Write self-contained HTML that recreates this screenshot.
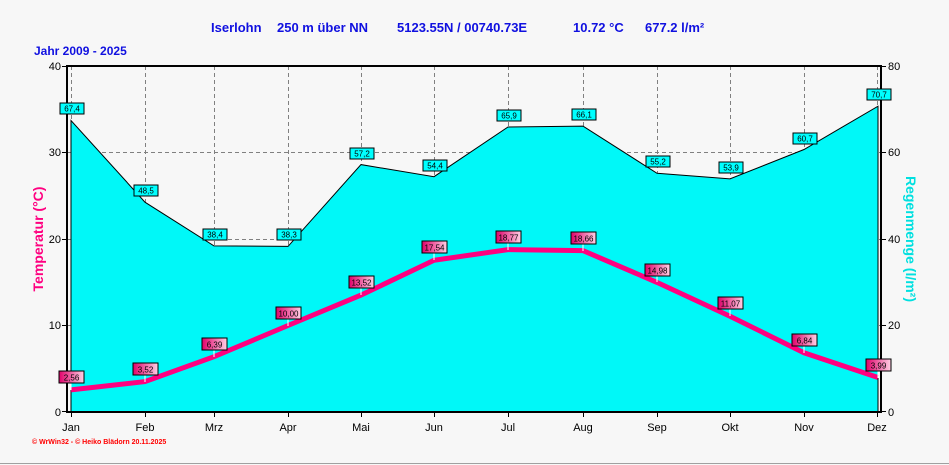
<!DOCTYPE html>
<html><head><meta charset="utf-8"><style>
html,body{margin:0;padding:0;background:#f7f7f7;}
svg{display:block;font-family:"Liberation Sans",Arial,sans-serif;}
</style></head><body>
<svg width="949" height="465" viewBox="0 0 949 465" xmlns="http://www.w3.org/2000/svg">
<defs>
<linearGradient id="pk" x1="0" x2="1" y1="0" y2="0"><stop offset="0" stop-color="#e0006a"/><stop offset="1" stop-color="#ffd0e4"/></linearGradient>
</defs>
<rect width="949" height="465" fill="#f7f7f7"/>
<line x1="0" y1="463.5" x2="949" y2="463.5" stroke="#a0a0a0"/>
<g fill="#1010e0" font-weight="bold" font-size="13">
<text x="211" y="32">Iserlohn</text><text x="277" y="32">250 m über NN</text>
<text x="397" y="32">5123.55N / 00740.73E</text><text x="573" y="32">10.72 °C</text><text x="645" y="32">677.2 l/m²</text>
<text x="34" y="55" font-size="12">Jahr  2009 - 2025</text>
</g>
<rect x="67" y="66" width="814" height="346" fill="#f7f7f7"/>
<g stroke="#808080" stroke-dasharray="4,3" stroke-width="1">
<line x1="67" y1="152.5" x2="881" y2="152.5"/><line x1="67" y1="239.5" x2="881" y2="239.5"/><line x1="67" y1="325.5" x2="881" y2="325.5"/>
<line x1="71.5" y1="66" x2="71.5" y2="412"/><line x1="145.5" y1="66" x2="145.5" y2="412"/><line x1="214.5" y1="66" x2="214.5" y2="412"/><line x1="288.5" y1="66" x2="288.5" y2="412"/><line x1="361.5" y1="66" x2="361.5" y2="412"/><line x1="434.5" y1="66" x2="434.5" y2="412"/><line x1="508.5" y1="66" x2="508.5" y2="412"/><line x1="583.5" y1="66" x2="583.5" y2="412"/><line x1="657.5" y1="66" x2="657.5" y2="412"/><line x1="730.5" y1="66" x2="730.5" y2="412"/><line x1="804.5" y1="66" x2="804.5" y2="412"/><line x1="877.5" y1="66" x2="877.5" y2="412"/>
</g>
<polygon fill="#00f8f8" stroke="#000" stroke-width="1" points="71,412 71,120.5 145,202.2 214,245.9 288,246.4 361,164.6 434,176.7 508,127 583,126.1 657,173.3 730,178.9 804,149.5 878,106.2 878,412"/>
<polyline fill="none" stroke="#ff0080" stroke-width="5" points="71,389.9 145,381.6 214,356.7 288,325.5 361,295.1 434,260.3 508,249.6 583,250.6 657,282.4 730,316.2 804,352.8 878,377.5"/>
<g stroke="#000" stroke-width="2" fill="none"><polyline points="67,66 881,66"/><line x1="67" y1="65" x2="67" y2="413"/><line x1="881" y1="65" x2="881" y2="413"/><line x1="66" y1="412" x2="882" y2="412"/></g>
<g stroke="#000" stroke-width="1">
<line x1="62" y1="66.5" x2="67" y2="66.5"/><line x1="62" y1="152.5" x2="67" y2="152.5"/><line x1="62" y1="239.5" x2="67" y2="239.5"/><line x1="62" y1="325.5" x2="67" y2="325.5"/><line x1="62" y1="411.5" x2="67" y2="411.5"/>
<line x1="881" y1="66.5" x2="886" y2="66.5"/><line x1="881" y1="152.5" x2="886" y2="152.5"/><line x1="881" y1="239.5" x2="886" y2="239.5"/><line x1="881" y1="325.5" x2="886" y2="325.5"/><line x1="881" y1="411.5" x2="886" y2="411.5"/>
<line x1="71.5" y1="412" x2="71.5" y2="417"/><line x1="145.5" y1="412" x2="145.5" y2="417"/><line x1="214.5" y1="412" x2="214.5" y2="417"/><line x1="288.5" y1="412" x2="288.5" y2="417"/><line x1="361.5" y1="412" x2="361.5" y2="417"/><line x1="434.5" y1="412" x2="434.5" y2="417"/><line x1="508.5" y1="412" x2="508.5" y2="417"/><line x1="583.5" y1="412" x2="583.5" y2="417"/><line x1="657.5" y1="412" x2="657.5" y2="417"/><line x1="730.5" y1="412" x2="730.5" y2="417"/><line x1="804.5" y1="412" x2="804.5" y2="417"/><line x1="877.5" y1="412" x2="877.5" y2="417"/>
</g>
<g font-size="11" fill="#000">
<text x="61" y="70" text-anchor="end">40</text><text x="61" y="156" text-anchor="end">30</text><text x="61" y="243" text-anchor="end">20</text><text x="61" y="329" text-anchor="end">10</text><text x="61" y="416" text-anchor="end">0</text>
<text x="888" y="70">80</text><text x="888" y="156">60</text><text x="888" y="243">40</text><text x="888" y="329">20</text><text x="888" y="416">0</text>
<g text-anchor="middle"><text x="71" y="431">Jan</text><text x="145" y="431">Feb</text><text x="214" y="431">Mrz</text><text x="288" y="431">Apr</text><text x="361" y="431">Mai</text><text x="434" y="431">Jun</text><text x="508" y="431">Jul</text><text x="583" y="431">Aug</text><text x="657" y="431">Sep</text><text x="730" y="431">Okt</text><text x="804" y="431">Nov</text><text x="877" y="431">Dez</text></g>
</g>
<text x="43" y="239" transform="rotate(-90 43 239)" text-anchor="middle" fill="#ff0080" font-weight="bold" font-size="14">Temperatur  (°C)</text>
<text x="906" y="239" transform="rotate(90 906 239)" text-anchor="middle" fill="#00e0e0" font-weight="bold" font-size="14">Regenmenge  (l/m²)</text>
<text x="32" y="444" fill="#ff0000" font-size="7" font-weight="bold">© WrWin32  -  © Heiko Blädorn  20.11.2025</text>
<g font-size="8" text-anchor="middle">
<g fill="#00ffff" stroke="#000">
<rect x="60" y="103" width="24" height="11"/><rect x="134" y="185" width="24" height="11"/><rect x="203" y="229" width="24" height="11"/><rect x="277" y="229" width="24" height="11"/><rect x="350" y="148" width="24" height="11"/><rect x="423" y="160" width="24" height="11"/><rect x="497" y="110" width="24" height="11"/><rect x="572" y="109" width="24" height="11"/><rect x="646" y="156" width="24" height="11"/><rect x="719" y="162" width="24" height="11"/><rect x="793" y="133" width="24" height="11"/><rect x="867" y="89" width="24" height="11"/>
</g>
<g fill="#000">
<text x="72" y="111.5">67,4</text><text x="146" y="193.5">48,5</text><text x="215" y="237.5">38,4</text><text x="289" y="237.5">38,3</text><text x="362" y="156.5">57,2</text><text x="435" y="168.5">54,4</text><text x="509" y="118.5">65,9</text><text x="584" y="117.5">66,1</text><text x="658" y="164.5">55,2</text><text x="731" y="170.5">53,9</text><text x="805" y="141.5">60,7</text><text x="879" y="97.5">70,7</text>
</g>
<g stroke="#fff"><line x1="71" y1="383" x2="71" y2="390"/><line x1="145" y1="375" x2="145" y2="382"/><line x1="214" y1="350" x2="214" y2="357"/><line x1="288" y1="319" x2="288" y2="326"/><line x1="361" y1="288" x2="361" y2="295"/><line x1="434" y1="253" x2="434" y2="260"/><line x1="508" y1="243" x2="508" y2="250"/><line x1="583" y1="244" x2="583" y2="251"/><line x1="657" y1="276" x2="657" y2="282"/><line x1="730" y1="309" x2="730" y2="316"/><line x1="804" y1="346" x2="804" y2="353"/><line x1="878" y1="371" x2="878" y2="378"/></g>
<g fill="url(#pk)" stroke="#000">
<rect x="59" y="371" width="25" height="12"/><rect x="133" y="363" width="25" height="12"/><rect x="202" y="338" width="25" height="12"/><rect x="276" y="307" width="25" height="12"/><rect x="349" y="276" width="25" height="12"/><rect x="422" y="241" width="25" height="12"/><rect x="496" y="231" width="25" height="12"/><rect x="571" y="232" width="25" height="12"/><rect x="645" y="264" width="25" height="12"/><rect x="718" y="297" width="25" height="12"/><rect x="792" y="334" width="25" height="12"/><rect x="866" y="359" width="25" height="12"/>
</g>
<g fill="#000">
<text x="71.5" y="380.5">2,56</text><text x="145.5" y="372.5">3,52</text><text x="214.5" y="347.5">6,39</text><text x="288.5" y="316.5">10,00</text><text x="361.5" y="285.5">13,52</text><text x="434.5" y="250.5">17,54</text><text x="508.5" y="240.5">18,77</text><text x="583.5" y="241.5">18,66</text><text x="657.5" y="273.5">14,98</text><text x="730.5" y="306.5">11,07</text><text x="804.5" y="343.5">6,84</text><text x="878.5" y="368.5">3,99</text>
</g>
</g>
</svg>
</body></html>
